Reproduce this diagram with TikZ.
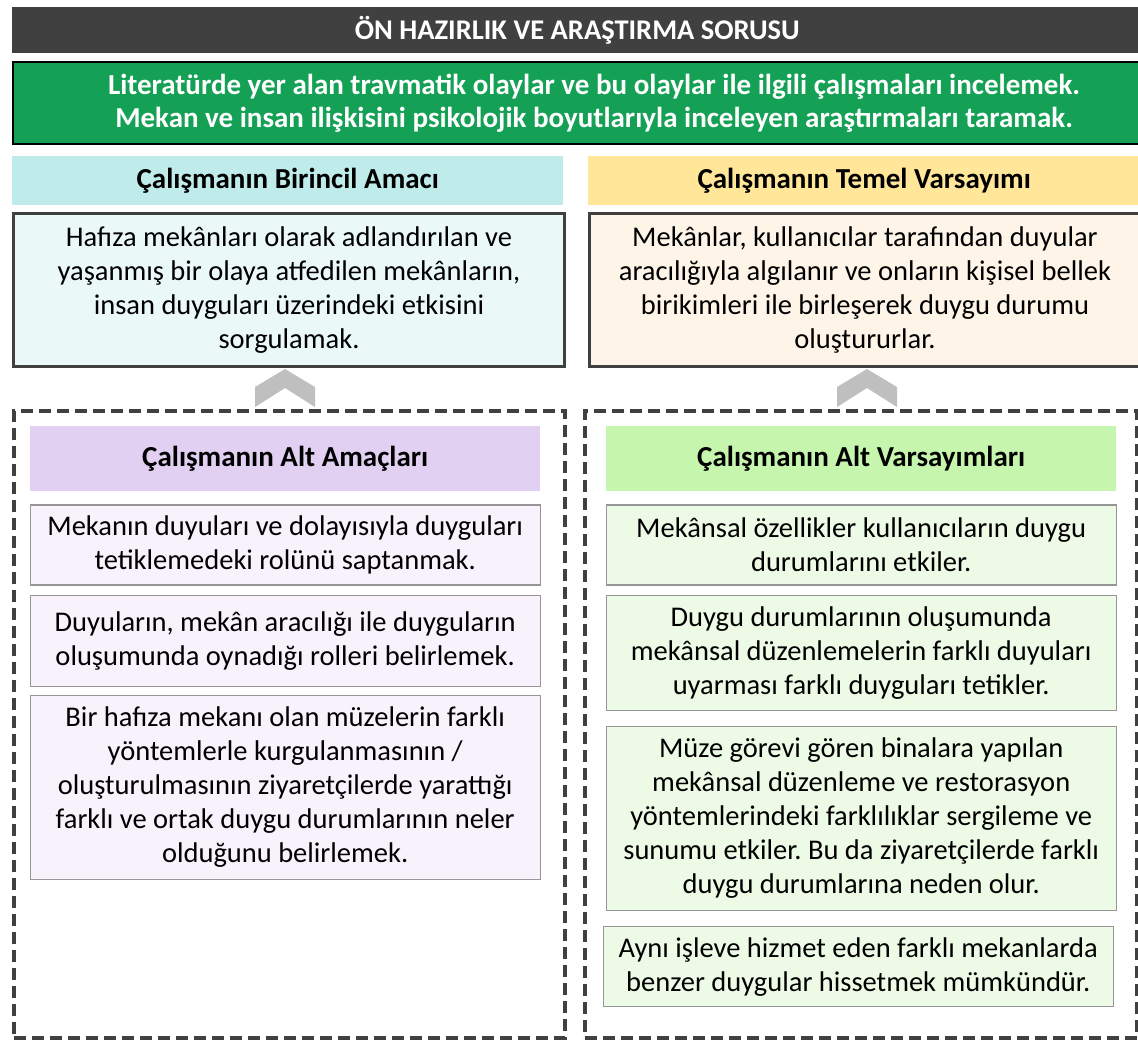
\documentclass[tikz,border=0pt]{standalone}
\usepackage{fontspec}
\setmainfont{Carlito}
\usepackage{tikz}
\usetikzlibrary{positioning}

\definecolor{barGray}{RGB}{64,64,64}
\definecolor{topGreen}{RGB}{20,160,85}
\definecolor{cyanHead}{RGB}{192,235,235}
\definecolor{cyanBody}{RGB}{234,248,248}
\definecolor{yellowHead}{RGB}{255,230,153}
\definecolor{yellowBody}{RGB}{254,245,232}
\definecolor{lilacHead}{RGB}{225,208,242}
\definecolor{lilacBody}{RGB}{247,242,252}
\definecolor{mintHead}{RGB}{198,246,173}
\definecolor{mintBody}{RGB}{237,250,230}
\definecolor{itemLine}{RGB}{150,150,150}
\definecolor{chevGray}{RGB}{191,191,191}

\begin{document}
\frenchspacing
\begin{tikzpicture}[x=1pt,y=-1pt,
   every node/.style={inner sep=0pt,align=center,font=\fontsize{28.5}{34}\selectfont},
   headbox/.style={anchor=north west,minimum height=49pt,font=\fontsize{29}{33}\selectfont\bfseries},
   mainbox/.style={anchor=north west,draw=barGray,line width=3pt,minimum width=551pt,minimum height=153pt},
   subhead/.style={minimum width=510pt,minimum height=65pt,font=\fontsize{29}{33}\selectfont\bfseries},
   itembox/.style={draw=itemLine,line width=1.2pt,minimum width=510pt},
   frame/.style={anchor=north west,draw=barGray,line width=4pt,dash pattern=on 12pt off 6pt},
   chev/.style={fill=chevGray}]
   \useasboundingbox (0,0) rectangle (1138,1039);

   \node[anchor=north west,fill=barGray,text=white,minimum width=1130pt,minimum height=46pt,
         font=\fontsize{28.5}{33}\selectfont\bfseries] (soru) at (12,7) {ÖN HAZIRLIK VE ARAŞTIRMA SORUSU};
   \node[anchor=north west,fill=topGreen,draw=black,line width=2pt,text=white,minimum width=1162pt,
         minimum height=82pt,font=\fontsize{29}{33}\selectfont\bfseries] (hazirlik) at (12,61)
         {Literatürde yer alan travmatik olaylar ve bu olaylar ile ilgili çalışmaları incelemek.\\
          Mekan ve insan ilişkisini psikolojik boyutlarıyla inceleyen araştırmaları taramak.};

   \node[headbox,fill=cyanHead,minimum width=551pt] (amacH) at (12,156) {Çalışmanın Birincil Amacı};
   \node[headbox,fill=yellowHead,minimum width=552pt] (varsH) at (588,156) {Çalışmanın Temel Varsayımı};
   \node[mainbox,fill=cyanBody] (amac) at (12,212)
         {Hafıza mekânları olarak adlandırılan ve\\ yaşanmış bir olaya atfedilen mekânların,\\
          insan duyguları üzerindeki etkisini\\ sorgulamak.};
   \node[mainbox,fill=yellowBody] (vars) at (588,212)
         {Mekânlar, kullanıcılar tarafından duyular\\ aracılığıyla algılanır ve onların kişisel bellek\\
          birikimleri ile birleşerek duygu durumu\\ oluştururlar.};

   \node[frame,minimum width=551pt,minimum height=627pt] (solCerceve) at (12,409) {};
   \node[frame,minimum width=552pt,minimum height=627pt] (sagCerceve) at (583,409) {};

   \fill[chev] ([xshift=-4pt,yshift=-1pt]amac.south) -- ++(-30,18) -- ++(0,20) -- ++(30,-19)
        -- ++(30,19) -- ++(0,-20) -- cycle;
   \fill[chev] ([xshift=2pt,yshift=-1pt]vars.south) -- ++(-30,18) -- ++(0,20) -- ++(30,-19)
        -- ++(30,19) -- ++(0,-20) -- cycle;

   \node[subhead,anchor=north west,fill=lilacHead] (altAmacH) at (30,426) {Çalışmanın Alt Amaçları};
   \node[itembox,fill=lilacBody,minimum height=80pt,below=13pt of altAmacH] (a1)
         {Mekanın duyuları ve dolayısıyla duyguları\\ tetiklemedeki rolünü saptanmak.};
   \node[itembox,fill=lilacBody,minimum height=91pt,below=9pt of a1] (a2)
         {Duyuların, mekân aracılığı ile duyguların\\ oluşumunda oynadığı rolleri belirlemek.};
   \node[itembox,fill=lilacBody,minimum height=184pt,below=8pt of a2] (a3)
         {Bir hafıza mekanı olan müzelerin farklı\\ yöntemlerle kurgulanmasının /\\
          oluşturulmasının ziyaretçilerde yarattığı\\ farklı ve ortak duygu durumlarının neler\\
          olduğunu belirlemek.};

   \node[subhead,anchor=north west,fill=mintHead] (altVarsH) at (606,426) {Çalışmanın Alt Varsayımları};
   \node[itembox,fill=mintBody,minimum height=80pt,below=13pt of altVarsH] (v1)
         {Mekânsal özellikler kullanıcıların duygu\\ durumlarını etkiler.};
   \node[itembox,fill=mintBody,minimum height=115pt,below=9pt of v1] (v2)
         {Duygu durumlarının oluşumunda\\ mekânsal düzenlemelerin farklı duyuları\\
          uyarması farklı duyguları tetikler.};
   \node[itembox,fill=mintBody,minimum height=184pt,below=15pt of v2] (v3)
         {Müze görevi gören binalara yapılan\\ mekânsal düzenleme ve restorasyon\\
          yöntemlerindeki farklılıklar sergileme ve\\ sunumu etkiler. Bu da ziyaretçilerde farklı\\
          duygu durumlarına neden olur.};
   \node[itembox,fill=mintBody,minimum height=80pt,below=15pt of v3,xshift=-3pt] (v4)
         {Aynı işleve hizmet eden farklı mekanlarda\\ benzer duygular hissetmek mümkündür.};
\end{tikzpicture}
\end{document}
